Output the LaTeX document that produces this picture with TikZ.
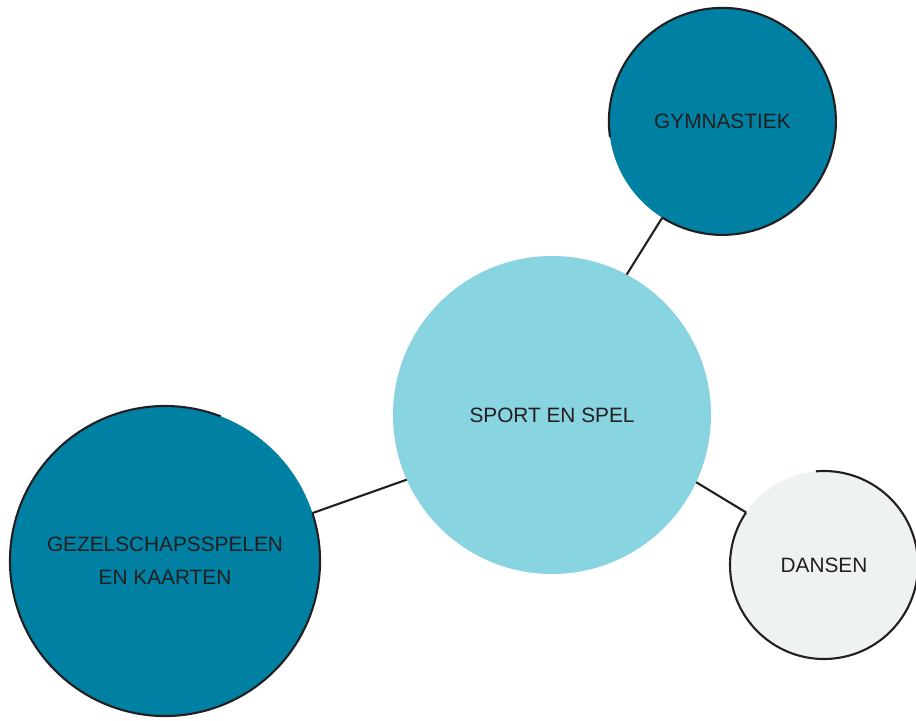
\documentclass[tikz,border=0pt]{standalone}
\usepackage{fontspec}
\setmainfont{Liberation Sans}
\usepackage{tikz}
\usetikzlibrary{positioning}

\definecolor{teal}{HTML}{0080A3}
\definecolor{lightblue}{HTML}{89D4E1}
\definecolor{lightgrey}{HTML}{EEF2F1}
\definecolor{ink}{HTML}{231F20}

\tikzset{
  bubble/.style={circle, inner sep=0pt, outer sep=0pt, text=ink, align=center,
    font=\fontsize{14.8}{23.4}\selectfont},
  ring/.style={draw=ink, line width=1.5pt},
  link/.style={draw=ink, line width=1.5pt}
}

\begin{document}
\begin{tikzpicture}
\useasboundingbox (0,0) rectangle (22.9,18.025);

% centre
\node[bubble, fill=lightblue, minimum size=7.95cm] (sport) at (13.8,7.65) {SPORT EN SPEL};

% satellites
\node[bubble, fill=teal, minimum size=5.675cm] (gym) at (18.06,14.99) {GYMNASTIEK};
\node[bubble, fill=teal, minimum size=7.75cm] (gez) at (4.125,4.0) {GEZELSCHAPSSPELEN\\EN KAARTEN};
\node[bubble, fill=lightgrey, minimum size=4.7cm] (dans) at (20.6,3.9) {DANSEN};

% open outlines
\draw[ring] (gym.238) arc[start angle=238, end angle=548, radius=2.8375cm];
\draw[ring] (gez.18) arc[start angle=18, end angle=-291, radius=3.875cm];
\draw[ring] (dans.146) arc[start angle=146, end angle=455, radius=2.35cm];

% connectors
\draw[link] (sport.62) -- (gym.238);
\draw[link] (sport.204) -- (gez.18);
\draw[link] (sport.335) -- (dans.146);
\end{tikzpicture}
\end{document}
